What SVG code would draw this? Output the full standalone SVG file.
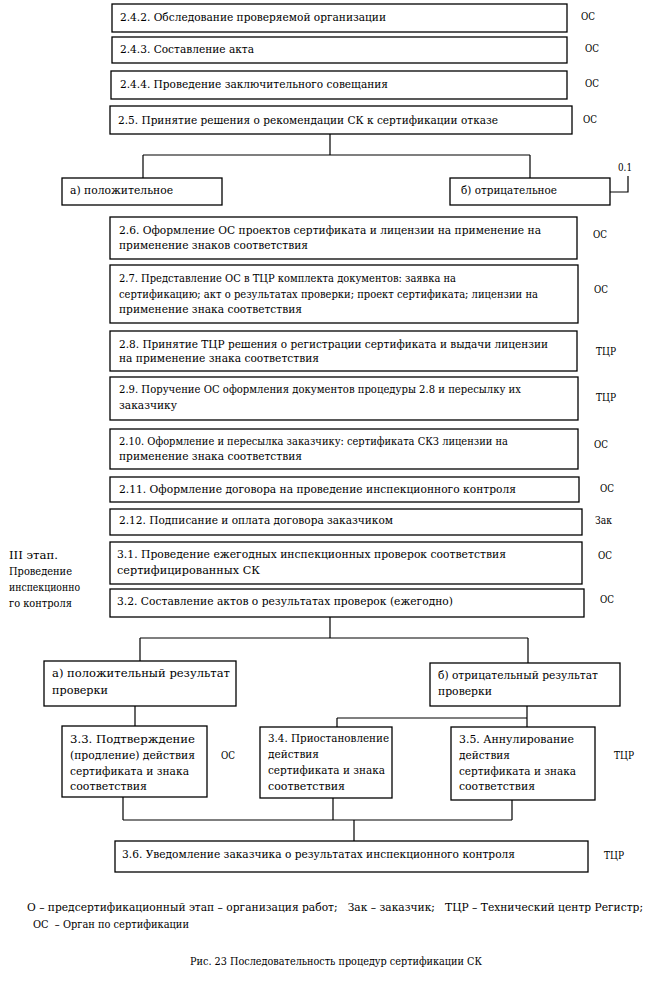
<svg xmlns="http://www.w3.org/2000/svg" width="666" height="984" viewBox="0 0 666 984">
<style>
text{font-family:"DejaVu Serif","Liberation Serif",serif;font-stretch:condensed;font-size:11.5px;fill:#000;white-space:pre}
.b{fill:#fff;stroke:#000;stroke-width:1.3}
.c{fill:none;stroke:#000;stroke-width:1.2}
</style>
<rect width="666" height="984" fill="#fff"/>
<g id="connectors">
<path class="c" d="M330 134V155M143 155H530M143 155V178M530 155V178"/>
<path class="c" d="M610 192H628V176"/>
<path class="c" d="M330 617V638M140 638H528M140 638V661M528 638V663"/>
<path class="c" d="M135 706V726M527 706V727M337 718H527M337 718V727"/>
<path class="c" d="M123 797V820M333 798V820M512 800V820M123 820H512M354 820V841"/>
</g>
<g id="n242"><rect class="b" x="112" y="4" width="455" height="28"/><text x="120" y="21" textLength="266" lengthAdjust="spacingAndGlyphs">2.4.2. Обследование проверяемой организации</text><text x="581" y="20" textLength="14" lengthAdjust="spacingAndGlyphs">ОС</text></g>
<g id="n243"><rect class="b" x="112" y="37" width="455" height="26"/><text x="120" y="53" textLength="134" lengthAdjust="spacingAndGlyphs">2.4.3. Составление акта</text><text x="585" y="52" textLength="14" lengthAdjust="spacingAndGlyphs">ОС</text></g>
<g id="n244"><rect class="b" x="111" y="71" width="456" height="28"/><text x="120" y="88" textLength="268" lengthAdjust="spacingAndGlyphs">2.4.4. Проведение заключительного совещания</text><text x="585" y="87" textLength="14" lengthAdjust="spacingAndGlyphs">ОС</text></g>
<g id="n25"><rect class="b" x="110" y="106" width="462" height="28"/><text x="118" y="124" textLength="380" lengthAdjust="spacingAndGlyphs">2.5. Принятие решения о рекомендации СК к сертификации отказе</text><text x="583" y="123" textLength="14" lengthAdjust="spacingAndGlyphs">ОС</text></g>
<g id="na1"><rect class="b" x="62" y="178" width="160" height="27"/><text x="70" y="194" textLength="103" lengthAdjust="spacingAndGlyphs">а) положительное</text></g>
<g id="nb1"><rect class="b" x="450" y="178" width="160" height="27"/><text x="461" y="194" textLength="96" lengthAdjust="spacingAndGlyphs">б) отрицательное</text><text x="618" y="171" textLength="14" lengthAdjust="spacingAndGlyphs">0.1</text></g>
<g id="n26"><rect class="b" x="110" y="217" width="467" height="42"/><text x="119" y="234" textLength="422" lengthAdjust="spacingAndGlyphs">2.6. Оформление ОС проектов сертификата и лицензии на применение на</text><text x="119" y="249" textLength="189" lengthAdjust="spacingAndGlyphs">применение знаков соответствия</text><text x="593" y="238" textLength="14" lengthAdjust="spacingAndGlyphs">ОС</text></g>
<g id="n27"><rect class="b" x="110" y="265" width="468" height="58"/><text x="119" y="282" textLength="337" lengthAdjust="spacingAndGlyphs">2.7. Представление ОС в ТЦР комплекта документов: заявка на</text><text x="119" y="298" textLength="419" lengthAdjust="spacingAndGlyphs">сертификацию; акт о результатах проверки; проект сертификата; лицензии на</text><text x="119" y="313" textLength="183" lengthAdjust="spacingAndGlyphs">применение знака соответствия</text><text x="594" y="293" textLength="14" lengthAdjust="spacingAndGlyphs">ОС</text></g>
<g id="n28"><rect class="b" x="110" y="331" width="467" height="40"/><text x="119" y="348" textLength="429" lengthAdjust="spacingAndGlyphs">2.8. Принятие ТЦР решения о регистрации сертификата и выдачи лицензии</text><text x="119" y="362" textLength="200" lengthAdjust="spacingAndGlyphs">на применение знака соответствия</text><text x="596" y="355" textLength="20" lengthAdjust="spacingAndGlyphs">ТЦР</text></g>
<g id="n29"><rect class="b" x="110" y="377" width="468" height="43"/><text x="119" y="393" textLength="402" lengthAdjust="spacingAndGlyphs">2.9. Поручение ОС оформления документов процедуры 2.8 и пересылку их</text><text x="119" y="409" textLength="58" lengthAdjust="spacingAndGlyphs">заказчику</text><text x="596" y="401" textLength="20" lengthAdjust="spacingAndGlyphs">ТЦР</text></g>
<g id="n210"><rect class="b" x="110" y="429" width="468" height="40"/><text x="119" y="445" textLength="389" lengthAdjust="spacingAndGlyphs">2.10. Оформление и пересылка заказчику: сертификата СКЗ лицензии на</text><text x="119" y="460" textLength="183" lengthAdjust="spacingAndGlyphs">применение знака соответствия</text><text x="594" y="448" textLength="14" lengthAdjust="spacingAndGlyphs">ОС</text></g>
<g id="n211"><rect class="b" x="110" y="477" width="469" height="25"/><text x="119" y="493" textLength="397" lengthAdjust="spacingAndGlyphs">2.11. Оформление договора на проведение инспекционного контроля</text><text x="600" y="492" textLength="14" lengthAdjust="spacingAndGlyphs">ОС</text></g>
<g id="n212"><rect class="b" x="110" y="509" width="472" height="26"/><text x="119" y="524" textLength="274" lengthAdjust="spacingAndGlyphs">2.12. Подписание и оплата договора заказчиком</text><text x="595" y="524" textLength="17" lengthAdjust="spacingAndGlyphs">Зак</text></g>
<g id="stage3"><text x="9" y="559" textLength="49" lengthAdjust="spacingAndGlyphs">III этап.</text><text x="9" y="575" textLength="63" lengthAdjust="spacingAndGlyphs">Проведение</text><text x="9" y="591" textLength="71" lengthAdjust="spacingAndGlyphs">инспекционно</text><text x="9" y="607" textLength="63" lengthAdjust="spacingAndGlyphs">го контроля</text></g>
<g id="n31"><rect class="b" x="110" y="542" width="472" height="42"/><text x="117" y="558" textLength="389" lengthAdjust="spacingAndGlyphs">3.1. Проведение ежегодных инспекционных проверок соответствия</text><text x="117" y="574" textLength="143" lengthAdjust="spacingAndGlyphs">сертифицированных СК</text><text x="598" y="559" textLength="14" lengthAdjust="spacingAndGlyphs">ОС</text></g>
<g id="n32"><rect class="b" x="110" y="589" width="474" height="28"/><text x="117" y="605" textLength="336" lengthAdjust="spacingAndGlyphs">3.2. Составление актов о результатах проверок (ежегодно)</text><text x="600" y="603" textLength="14" lengthAdjust="spacingAndGlyphs">ОС</text></g>
<g id="na2"><rect class="b" x="44" y="661" width="192" height="45"/><text x="52" y="677" textLength="178" lengthAdjust="spacingAndGlyphs">а) положительный результат</text><text x="52" y="694" textLength="56" lengthAdjust="spacingAndGlyphs">проверки</text></g>
<g id="nb2"><rect class="b" x="430" y="663" width="190" height="43"/><text x="438" y="679" textLength="160" lengthAdjust="spacingAndGlyphs">б) отрицательный результат</text><text x="438" y="695" textLength="54" lengthAdjust="spacingAndGlyphs">проверки</text></g>
<g id="n33"><rect class="b" x="62" y="726" width="145" height="71"/><text x="70" y="743" textLength="125" lengthAdjust="spacingAndGlyphs">3.3. Подтверждение</text><text x="70" y="759" textLength="125" lengthAdjust="spacingAndGlyphs">(продление) действия</text><text x="70" y="775" textLength="119" lengthAdjust="spacingAndGlyphs">сертификата и знака</text><text x="70" y="790" textLength="77" lengthAdjust="spacingAndGlyphs">соответствия</text><text x="221" y="759" textLength="14" lengthAdjust="spacingAndGlyphs">ОС</text></g>
<g id="n34"><rect class="b" x="260" y="727" width="132" height="71"/><text x="268" y="742" textLength="121" lengthAdjust="spacingAndGlyphs">3.4. Приостановление</text><text x="268" y="758" textLength="51" lengthAdjust="spacingAndGlyphs">действия</text><text x="268" y="774" textLength="117" lengthAdjust="spacingAndGlyphs">сертификата и знака</text><text x="268" y="790" textLength="77" lengthAdjust="spacingAndGlyphs">соответствия</text></g>
<g id="n35"><rect class="b" x="451" y="727" width="144" height="73"/><text x="459" y="743" textLength="115" lengthAdjust="spacingAndGlyphs">3.5. Аннулирование</text><text x="459" y="759" textLength="51" lengthAdjust="spacingAndGlyphs">действия</text><text x="459" y="775" textLength="117" lengthAdjust="spacingAndGlyphs">сертификата и знака</text><text x="459" y="790" textLength="76" lengthAdjust="spacingAndGlyphs">соответствия</text><text x="614" y="759" textLength="20" lengthAdjust="spacingAndGlyphs">ТЦР</text></g>
<g id="n36"><rect class="b" x="115" y="841" width="473" height="31"/><text x="122" y="858" textLength="393" lengthAdjust="spacingAndGlyphs">3.6. Уведомление заказчика о результатах инспекционного контроля</text><text x="604" y="859" textLength="20" lengthAdjust="spacingAndGlyphs">ТЦР</text></g>
<g id="legend"><text x="27" y="911" textLength="616" lengthAdjust="spacingAndGlyphs">О – предсертификационный этап – организация работ;   Зак – заказчик;   ТЦР – Технический центр Регистр;</text><text x="33" y="928" textLength="156" lengthAdjust="spacingAndGlyphs">ОС  – Орган по сертификации</text></g>
<text x="190" y="965" textLength="292" lengthAdjust="spacingAndGlyphs">Рис. 23 Последовательность процедур сертификации СК</text>
</svg>
